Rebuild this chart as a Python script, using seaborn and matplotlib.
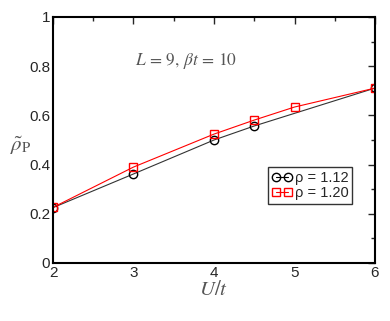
import numpy as np
import pandas as pd
import matplotlib
matplotlib.use("Agg")
import matplotlib.pyplot as plt
import seaborn as sns
from matplotlib.ticker import MultipleLocator
from matplotlib.lines import Line2D

# values
u_112 = [2, 3, 4, 4.5, 6]
rho_112 = [0.225, 0.362, 0.500, 0.557, 0.711]
u_120 = [2, 3, 4, 4.5, 5, 6]
rho_120 = [0.226, 0.390, 0.524, 0.581, 0.634, 0.711]
labels = ["ρ = 1.12", "ρ = 1.20"]
colors = ["black", "red"]
markers = ["o", "s"]

sns.set_style("white")
plt.rcParams["font.family"] = ["Liberation Sans", "DejaVu Sans"]
plt.rcParams["mathtext.fontset"] = "stix"

df = pd.concat([
    pd.DataFrame({"U": u_112, "rho": rho_112, "set": labels[0]}),
    pd.DataFrame({"U": u_120, "rho": rho_120, "set": labels[1]}),
])

fig = plt.figure(figsize=(3.9, 3.21), dpi=100)
ax = fig.add_axes([53 / 390, 1 - 263 / 321, 322 / 390, 246 / 321])

sns.lineplot(data=df, x="U", y="rho", hue="set", style="set",
             palette=["#333333", "red"], markers=markers, dashes=False,
             markersize=6, markerfacecolor="none", markeredgewidth=1.0,
             linewidth=0.8, ax=ax, legend=False)
for line, c in zip(ax.get_lines(), colors):
    line.set_markeredgecolor(c)

ax.set_xlim(2, 6)
ax.set_ylim(0, 1)
ax.xaxis.set_major_locator(MultipleLocator(1))
ax.xaxis.set_minor_locator(MultipleLocator(0.5))
ax.yaxis.set_minor_locator(MultipleLocator(0.1))
ax.set_yticks([0, 0.2, 0.4, 0.6, 0.8, 1])
ax.set_yticklabels(["0", "0.2", "0.4", "0.6", "0.8", "1"])
ax.tick_params(which="both", direction="in", top=True, right=True,
               labelsize=11, pad=2)
ax.tick_params(which="major", length=5, width=1)
ax.tick_params(which="minor", length=3, width=1)
for s in ax.spines.values():
    s.set_linewidth(1.5)
    s.set_color("black")

ax.set_xlabel("$U/t$", fontsize=15, color="#555555", labelpad=0)
ax.set_ylabel(r"$\tilde{\rho}_{\mathrm{P}}$", fontsize=15, color="#555555",
              rotation=0, labelpad=12)
ax.yaxis.set_label_coords(-0.1, 0.43)
ax.text(3.65, 0.82, r"$L\,=\,9,\,\beta t\,=\,10$", fontsize=12.5,
        color="#555555", ha="center", va="center")

handles = [Line2D([], [], color=c, marker=m, markerfacecolor="none",
                  markeredgecolor=c, markersize=6, linewidth=0.8)
           for c, m in zip(colors, markers)]
leg = ax.legend(handles, labels, loc="upper left",
                bbox_to_anchor=(0.668, 0.39), frameon=True, numpoints=2,
                fontsize=10.5, handlelength=1.4, handletextpad=0.2,
                borderpad=0.25, labelspacing=0.1, borderaxespad=0)
leg.get_frame().set_edgecolor("black")
leg.get_frame().set_linewidth(1.0)
leg.get_frame().set_boxstyle("square", pad=0)

fig.savefig("out.png", dpi=100)
